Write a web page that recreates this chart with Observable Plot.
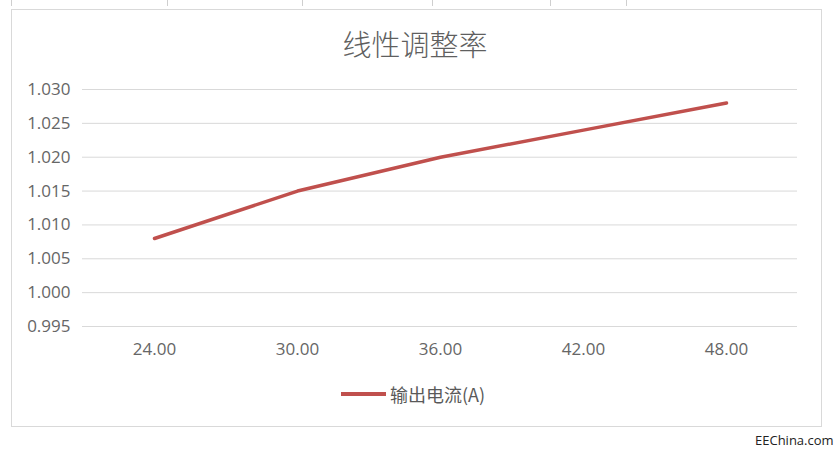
<!DOCTYPE html>
<html>
<head>
<meta charset="utf-8">
<script src="https://cdn.jsdelivr.net/npm/d3@7"></script>
<script src="https://cdn.jsdelivr.net/npm/@observablehq/plot@0.6"></script>
<style>
  html, body { margin: 0; padding: 0; background: #fff; }
  #page { position: relative; width: 835px; height: 453px; overflow: hidden; font-family: "Open Sans", "Noto Sans CJK SC", sans-serif; }
  .tline { position: absolute; top: 0; width: 1px; height: 6px; background: #cfcfcf; }
  #frame { position: absolute; left: 11px; top: 9px; width: 811px; height: 418px; border: 1px solid #d9d9d9; box-sizing: border-box; }
  #title { position: absolute; left: 0; width: 830px; top: 23px; text-align: center; font-family: "Noto Sans CJK SC", sans-serif; font-weight: 300; font-size: 29px; color: #5f5f5f; line-height: 40px; z-index: 2; }
  #legend { position: absolute; left: 341px; top: 380px; height: 28px; display: flex; align-items: center; z-index: 2; }
  #legend .sw { width: 45px; height: 3.5px; background: #c0504d; margin-right: 4px; }
  #legend .lb { font-family: "Noto Sans CJK SC", sans-serif; font-size: 18px; color: #595959; }
  #wm { position: absolute; left: 755px; top: 431px; font-family: "Open Sans", sans-serif; font-size: 13px; color: #222; }
  #chart { position: absolute; left: 0; top: 0; z-index: 1; }
</style>
</head>
<body>
<div id="page">
  <div class="tline" style="left:11px"></div>
  <div class="tline" style="left:167px"></div>
  <div class="tline" style="left:302px"></div>
  <div class="tline" style="left:432px"></div>
  <div class="tline" style="left:550px"></div>
  <div class="tline" style="left:626px"></div>
  <div id="frame"></div>
  <div id="title">线性调整率</div>
  <div id="chart"></div>
  <div id="legend"><div class="sw"></div><div class="lb">输出电流(A)</div></div>
  <div id="wm">EEChina.com</div>
</div>
<script>
const categories = ["24.00", "30.00", "36.00", "42.00", "48.00"];
const values = [1.008, 1.015, 1.020, 1.024, 1.028];
const yTicks = [0.995, 1.000, 1.005, 1.010, 1.015, 1.020, 1.025, 1.030];
const seriesName = "输出电流(A)";

const data = categories.map((c, i) => ({cat: c, val: values[i], series: seriesName}));

const chart = Plot.plot({
  width: 835,
  height: 453,
  marginLeft: 82,
  marginRight: 38,
  marginTop: 89,
  marginBottom: 127,
  style: {background: "transparent", fontFamily: "Open Sans, sans-serif", fontSize: "17px"},
  x: {type: "point", domain: categories, padding: 0.5, label: null},
  y: {domain: [0.995, 1.030], label: null},
  marks: [
    Plot.gridY(yTicks, {stroke: "#d9d9d9", strokeOpacity: 1, strokeWidth: 1}),
    Plot.axisY(yTicks, {tickSize: 0, tickPadding: 12, tickFormat: d3.format(".3f"), fontSize: 17, color: "#666", label: null}),
    Plot.axisX({tickSize: 0, tickPadding: 16, fontSize: 17, color: "#666", label: null}),
    Plot.line(data, {x: "cat", y: "val", stroke: "#c0504d", strokeWidth: 3.5, strokeLinecap: "round"})
  ]
});
document.getElementById("chart").appendChild(chart);
</script>
</body>
</html>
